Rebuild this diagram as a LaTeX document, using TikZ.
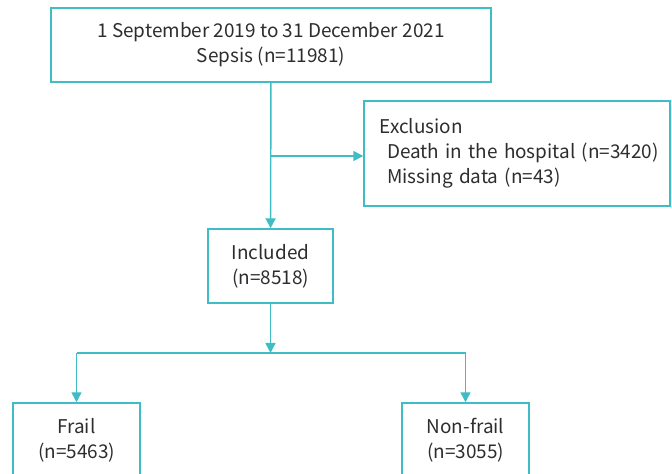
\documentclass[tikz,border=0pt]{standalone}
\usepackage{fontspec}
\setmainfont{Noto Sans CJK SC}
\usepackage{xcolor}
\usetikzlibrary{positioning,arrows.meta}

\definecolor{flowteal}{RGB}{62,189,196}
\definecolor{flowtext}{RGB}{45,45,45}

\begin{document}
\begin{tikzpicture}[
  x=0.75pt, y=0.75pt,
  stagebox/.style={
    rectangle, draw=flowteal, line width=1.1pt,
    text=flowtext, align=center, inner sep=0pt,
    font=\fontsize{14.2}{18.9}\selectfont
  },
  flow/.style={-{Triangle[length=7.5pt,width=7.5pt]}, draw=flowteal, line width=1.1pt},
  link/.style={draw=flowteal, line width=1.1pt}
]
\useasboundingbox (0,0) rectangle (672,474);
\clip (0,0) rectangle (672,474);

% Nodes
\node[stagebox, minimum width=330pt, minimum height=55.5pt] (cohort) at (271,429)
  {1 September 2019 to 31 December 2021\\Sepsis (n=11981)};
\node[stagebox, minimum width=229.5pt, minimum height=78.75pt, align=left,
      text width=220pt] (excl) at (517,320.5)
  {\hspace{7pt}Exclusion\\\hspace{12.5pt}Death in the hospital (n=3420)\\\hspace{12.5pt}Missing data (n=43)};
\node[stagebox, minimum width=93.75pt, minimum height=55.5pt] (incl) at (270.5,208)
  {Included\\(n=8518)};
\node[stagebox, minimum width=95.25pt, minimum height=55.5pt] (frail) at (76.5,34)
  {Frail\\(n=5463)};
\node[stagebox, minimum width=95.25pt, minimum height=55.5pt] (nonfrail) at (465.5,34)
  {Non-frail\\(n=3055)};

% Branch points
\coordinate (exbranch) at (cohort.south |- 0,318);
\coordinate (split) at (incl.south |- 0,121);
\coordinate (splitL) at (frail.north |- split);
\coordinate (splitR) at (nonfrail.north |- split);

% Cohort -> Included, with exclusion branch
\draw[flow] (cohort) -- (incl);
\draw[flow] (exbranch) -- (exbranch -| excl.west);

% Included -> Frail / Non-frail
\draw[flow] (incl) -- (split);
\draw[link] (splitL) -- (splitR);
\draw[flow] (splitL) -- (frail);
\draw[flow] (splitR) -- (nonfrail);

\end{tikzpicture}
\end{document}
